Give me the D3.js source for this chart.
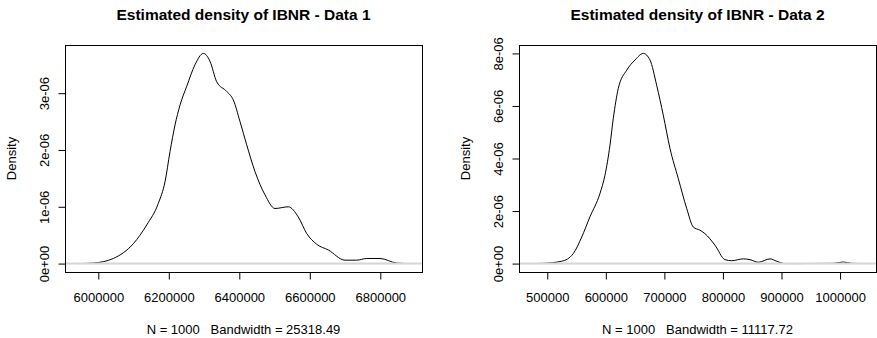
<!DOCTYPE html>
<html>
<head>
<meta charset="utf-8">
<script src="https://cdn.jsdelivr.net/npm/d3@7"></script>
<style>
  body { margin: 0; background: #fff; }
  svg { display: block; font-family: "Liberation Sans", Arial, sans-serif; }
  text { white-space: pre; fill: #000; }
</style>
</head>
<body>
<svg id="chart" width="877" height="338"></svg>
<script>
// density estimates (y in units of 1e-6)
var x1 = [5943000, 5985800, 6042500, 6099300, 6137300, 6170200, 6189200, 6203400, 6217600, 6231800, 6250800, 6274300, 6297900, 6316900, 6335900, 6364300, 6383000, 6402000, 6421000, 6444500, 6472900, 6501300, 6539000, 6567400, 6591200, 6619600, 6652500, 6699900, 6733000, 6761400, 6799100, 6846500, 6880800];
var y1 = [0, 0.01, 0.09, 0.35, 0.68, 1.06, 1.44, 1.97, 2.44, 2.79, 3.12, 3.50, 3.70, 3.56, 3.20, 3.03, 2.88, 2.50, 2.09, 1.62, 1.21, 0.97, 1.00, 0.82, 0.53, 0.34, 0.24, 0.06, 0.06, 0.09, 0.09, 0.01, 0];

var x2 = [474300, 493200, 524600, 544400, 558800, 572900, 590000, 598500, 607100, 612700, 621300, 635600, 649800, 664000, 675400, 686800, 698100, 709600, 723700, 738100, 749400, 760800, 769300, 786400, 803500, 814900, 834800, 846200, 860400, 880400, 891800, 906000, 930000, 988500, 1005600, 1019900, 1038800];
var y2 = [0, 0.01, 0.09, 0.38, 1.01, 1.78, 2.67, 3.36, 4.51, 5.52, 6.67, 7.36, 7.75, 8.00, 7.75, 6.79, 5.65, 4.38, 3.24, 2.10, 1.39, 1.27, 1.14, 0.70, 0.15, 0.11, 0.18, 0.15, 0.05, 0.18, 0.09, 0.0, 0, 0.01, 0.06, 0.01, 0];

var xTicks1 = [6000000, 6200000, 6400000, 6600000, 6800000];
var yTicks1 = [0, 1, 2, 3];
var yLabels1 = ["0e+00", "1e-06", "2e-06", "3e-06"];
var xTicks2 = [500000, 600000, 700000, 800000, 900000, 1000000];
var yTicks2 = [0, 2, 4, 6, 8];
var yLabels2 = ["0e+00", "2e-06", "4e-06", "6e-06", "8e-06"];

var titles = ["Estimated density of IBNR - Data 1", "Estimated density of IBNR - Data 2"];
var subs = ["N = 1000   Bandwidth = 25318.49", "N = 1000   Bandwidth = 11117.72"];

var svg = d3.select("#chart");

function panel(left, xs, ys, xt, yt, yl, title, sub) {
  var top = 45, w = 357, h = 227;
  var g = svg.append("g").attr("transform", "translate(" + left + "," + top + ")");

  // R style: 4% padding on both axes
  var xe = d3.extent(xs), xp = (xe[1] - xe[0]) * 0.04;
  var ym = d3.max(ys), yp = ym * 0.04;
  var x = d3.scaleLinear().domain([xe[0] - xp, xe[1] + xp]).range([0, w]);
  var y = d3.scaleLinear().domain([-yp, ym + yp]).range([h, 0]);

  var pts = xs.map(function(d, i) { return [d, ys[i]]; });
  var line = d3.line()
      .x(function(d) { return x(d[0]); })
      .y(function(d) { return y(d[1]); })
      .curve(d3.curveMonotoneX);

  g.append("path").datum(pts)
      .attr("d", line)
      .attr("fill", "none")
      .attr("stroke", "#000")
      .attr("stroke-width", 1);

  // zero line is drawn on top, like plot.density does
  g.append("line")
      .attr("x1", 0).attr("x2", w)
      .attr("y1", y(0)).attr("y2", y(0))
      .attr("stroke", "#d6d6d6")
      .attr("stroke-width", 2);

  g.append("rect")
      .attr("x", 0.5).attr("y", 0.5)
      .attr("width", w).attr("height", h)
      .attr("fill", "none").attr("stroke", "#000");

  var xa = g.append("g").attr("transform", "translate(0," + (h + 0.5) + ")")
      .call(d3.axisBottom(x).tickValues(xt).tickFormat(d3.format("d"))
        .tickSize(7).tickPadding(13));
  xa.select(".domain").remove();
  xa.selectAll("text").attr("font-size", 13).attr("font-family", null).attr("fill", "#000");

  var ya = g.append("g").attr("transform", "translate(0.5,0)")
      .call(d3.axisLeft(y).tickValues(yt).tickFormat(function(d, i) { return yl[i]; })
        .tickSize(7));
  ya.select(".domain").remove();
  ya.selectAll("text")
      .attr("x", null).attr("dy", null)
      .attr("text-anchor", "middle")
      .attr("transform", "translate(-17,0) rotate(-90)")
      .attr("font-size", 13).attr("font-family", null).attr("fill", "#000");

  g.append("text")
      .attr("transform", "translate(-49," + (h / 2) + ") rotate(-90)")
      .attr("text-anchor", "middle")
      .attr("font-size", 13)
      .text("Density");

  g.append("text")
      .attr("x", w / 2).attr("y", 20 - top)
      .attr("text-anchor", "middle")
      .attr("font-size", 15.5).attr("font-weight", "bold")
      .text(title);

  g.append("text")
      .attr("x", w / 2).attr("y", 334 - top)
      .attr("text-anchor", "middle")
      .attr("font-size", 13)
      .text(sub);
}

panel(65, x1, y1, xTicks1, yTicks1, yLabels1, titles[0], subs[0]);
panel(519, x2, y2, xTicks2, yTicks2, yLabels2, titles[1], subs[1]);
</script>
</body>
</html>
